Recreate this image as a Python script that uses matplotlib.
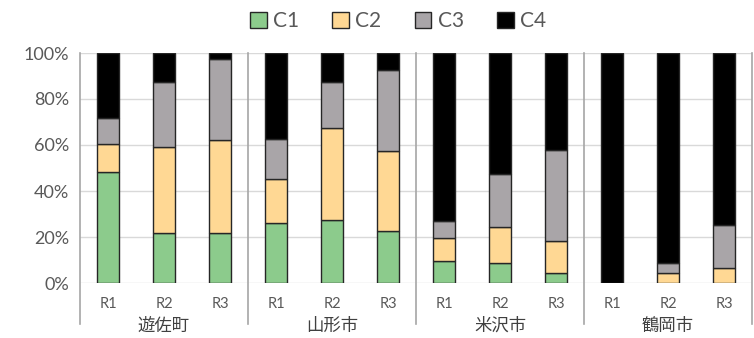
import numpy as np
import matplotlib
matplotlib.use("Agg")
import matplotlib.pyplot as plt
from matplotlib.patches import Patch

plt.rcParams['font.family'] = ['Lato', 'Noto Sans CJK JP']

# 地域と回次
groups = ['遊佐町', '山形市', '米沢市', '鶴岡市']
rounds = ['R1', 'R2', 'R3']
series = ['C1', 'C2', 'C3', 'C4']

# 各カテゴリの割合(%)  遊佐町 R1-R3, 山形市 R1-R3, 米沢市 R1-R3, 鶴岡市 R1-R3
c1 = [48.3, 21.7, 21.7, 25.9, 27.6, 22.4, 9.6, 8.7, 4.2, 0.0, 0.0, 0.0]
c2 = [12.0, 37.3, 40.6, 19.5, 39.9, 34.9, 9.9, 15.6, 14.0, 0.0, 4.2, 6.4]
c3 = [11.3, 28.2, 35.3, 17.0, 20.0, 35.3, 7.3, 23.1, 39.6, 0.0, 4.4, 18.8]
c4 = [100 - a - b - c for a, b, c in zip(c1, c2, c3)]

colors = ['#8ccb8c', '#ffd894', '#a9a5a8', '#000000']
text_col = '#595959'

fig = plt.figure(figsize=(7.54, 3.38), dpi=100)
ax = fig.add_axes([80 / 754, 55 / 338, 672 / 754, 230 / 338])

x = np.arange(len(c1))
bottom = np.zeros(len(c1))
for vals, col in zip([c1, c2, c3, c4], colors):
    ax.bar(x, vals, 0.41, bottom=bottom, color=col, edgecolor='#262626',
           linewidth=1.0, zorder=3)
    bottom += np.array(vals)

ax.set_xlim(-0.5, len(c1) - 0.5)
ax.set_ylim(0, 100)
ax.set_yticks(np.arange(0, 101, 20))
ax.set_yticklabels([f'{v}%' for v in range(0, 101, 20)], fontsize=13, color=text_col)
ax.tick_params(axis='y', length=0, pad=8)
ax.grid(axis='y', color='#d9d9d9', linewidth=1, zorder=0)
for s in ax.spines.values():
    s.set_visible(False)

# 回次ラベルと地域ラベル
ax.set_xticks(x)
ax.set_xticklabels(rounds * len(groups), fontsize=10.5, color=text_col)
ax.tick_params(axis='x', length=0, pad=10)
trans = ax.get_xaxis_transform()
for i, g in enumerate(groups):
    ax.text(i * 3 + 1, -0.185, g, transform=trans, ha='center', va='center',
            fontsize=12.5, color='#404040')

# 地域の区切り線
for b in np.arange(-0.5, len(c1), 3):
    ax.plot([b, b], [1.0, -0.18], transform=trans, color='#a6a6a6',
            linewidth=1.2, clip_on=False, zorder=4)

handles = [Patch(facecolor=c, edgecolor='#262626', linewidth=1.0) for c in colors]
fig.legend(handles, series, loc='center', bbox_to_anchor=(0.528, 0.937), ncol=4,
           frameon=False, fontsize=15, labelcolor=text_col, handlelength=0.8,
           handleheight=0.8, handletextpad=0.3, columnspacing=1.6)

fig.savefig('out.png', dpi=100)
